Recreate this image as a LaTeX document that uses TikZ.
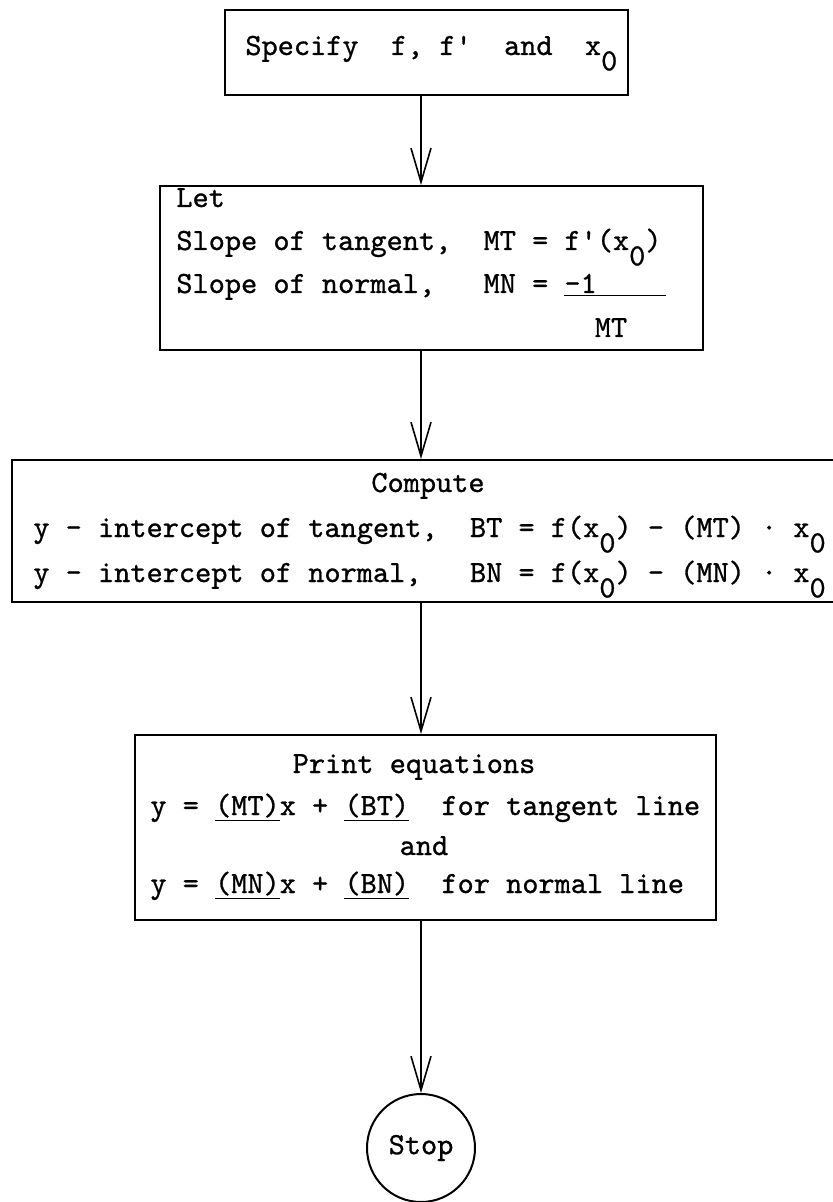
\documentclass[tikz,border=0pt]{standalone}
\usepackage{fontspec}
\usepackage{tikz}
\usetikzlibrary{arrows.meta,fit}

\newfontfamily\tw{lmmono10-regular}[Extension=.otf,FakeBold=0.9]
\newcommand{\zsub}{\raisebox{-0.5em}{0}}

\tikzset{
  box/.style={draw,line width=1pt,inner sep=0pt},
  txt/.style={font=\tw\fontsize{15.4}{18}\selectfont,inner sep=0pt,anchor=base west},
  ctxt/.style={txt,anchor=base},
  flow/.style={line width=0.8pt,-{Straight Barb[length=17pt,width=10pt,line width=0.8pt]}}
}

\begin{document}
\begin{tikzpicture}[x=0.5pt,y=-0.5pt]
\useasboundingbox (0,0) rectangle (833,1202);

\node[box,fit={(225,10) (628,95)}] (b1) {};
\node[box,fit={(160,186) (703,350)}] (b2) {};
\node[box,fit={(12,460) (870,602)}] (b3) {};
\node[box,fit={(135,735) (716,920)}] (b4) {};
\node[circle,draw,line width=1pt,minimum size=54pt,inner sep=0pt,font=\tw\fontsize{15.4}{18}\selectfont] (s) at (421,1148) {Stop};

\node[txt] (t1) at (245,55) {Specify~~f,~f'~~and~~x\zsub};

\node[txt] (t2) at (176,207) {Let};
\node[txt] (t3) at (176,250) {Slope of tangent,~~MT = f'(x\zsub)};
\node[txt] (t4) at (176,293) {Slope of normal,~~~MN = \underline{\makebox[51pt][l]{-1}}};
\node[ctxt] (t5) at (611,337) {MT};

\node[ctxt] (t6) at (428,492) {Compute};
\node[txt] (t7) at (33,537) {y - intercept of tangent,~~BT = f(x\zsub) - (MT) · x\zsub};
\node[txt] (t8) at (33,582) {y - intercept of normal,~~~BN = f(x\zsub) - (MN) · x\zsub};

\node[ctxt] (t9) at (414,773) {Print equations};
\node[txt] (t10) at (150,815) {y = \underline{(MT)}x + \underline{(BT)}~~for tangent line};
\node[ctxt] (t11) at (424,855) {and};
\node[txt] (t12) at (150,893) {y = \underline{(MN)}x + \underline{(BN)}~~for normal line};

\draw[flow] (b1.south -| s.north) -- (b2.north -| s.north);
\draw[flow] (b2.south -| s.north) -- (b3.north -| s.north);
\draw[flow] (b3.south -| s.north) -- (b4.north -| s.north);
\draw[flow] (b4.south -| s.north) -- (s.north);
\end{tikzpicture}
\end{document}
